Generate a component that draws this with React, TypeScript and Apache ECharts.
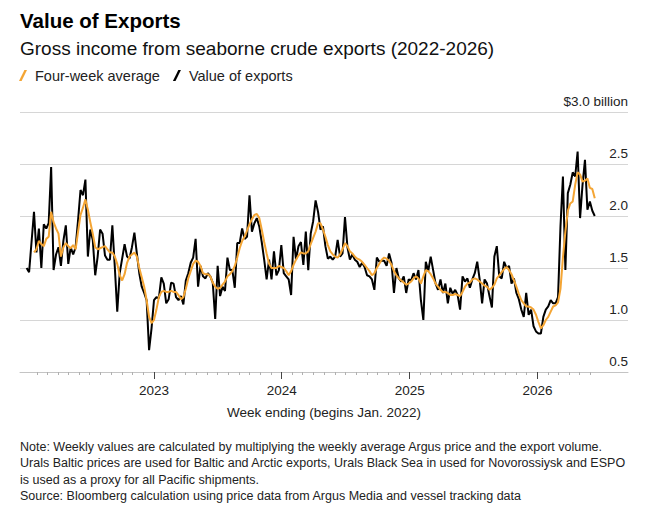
import React, { useEffect, useRef } from 'react';
import * as echarts from 'echarts';

const FONT = '"Liberation Sans", Arial, Helvetica, sans-serif';
const DAY = 86400000;

const chartTitle = 'Value of Exports';
const chartSubtitle = 'Gross income from seaborne crude exports (2022-2026)';
const seriesNames = ['Four-week average', 'Value of exports'];
const xAxisName = 'Week ending (begins Jan. 2022)';
const yearLabels = ['2023', '2024', '2025', '2026'];
const yTickLabels = ['0.5', '1.0', '1.5', '2.0', '2.5', '$3.0 billion'];
const noteLines = [
  'Note: Weekly values are calculated by multiplying the weekly average Argus price and the export volume.',
  'Urals Baltic prices are used for Baltic and Arctic exports, Urals Black Sea in used for Novorossiysk and ESPO',
  'is used as a proxy for all Pacific shipments.',
  'Source: Bloomberg calculation using price data from Argus Media and vessel tracking data',
];

// first week ending in the series (weekly steps afterwards)
const firstWeekEnding = [2022, 0, 2];

// Weekly value of exports, $ billion
const exportValues = [
  1.50, 1.46, 1.75, 2.04, 1.65, 1.88, 1.50, 1.92, 1.88, 1.93,
  2.47, 1.48, 1.63, 1.70, 1.52, 1.76, 1.91, 1.54, 1.70, 1.63,
  1.70, 1.96, 2.25, 2.20, 2.35, 1.61, 1.87, 1.77, 1.43, 1.61,
  1.87, 1.83, 1.62, 1.58, 1.58, 1.91, 1.51, 1.08, 1.45, 1.59,
  1.73, 1.61, 1.59, 1.70, 1.84, 1.64, 1.45, 1.32, 1.26, 1.19,
  0.71, 0.92, 1.19, 1.22, 1.21, 1.41, 1.35, 1.16, 1.20, 1.36,
  1.35, 1.22, 1.19, 1.23, 1.15, 1.38, 1.45, 1.55, 1.60, 1.78,
  1.32, 1.52, 1.42, 1.40, 1.45, 1.42, 1.36, 1.01, 1.52, 1.23,
  1.32, 1.28, 1.60, 1.48, 1.48, 1.31, 1.74, 1.74, 1.88, 1.78,
  1.80, 2.20, 1.85, 1.93, 1.98, 1.90, 1.75, 1.58, 1.39, 1.58,
  1.39, 1.66, 1.43, 1.48, 1.72, 1.45, 1.42, 1.39, 1.24, 1.80,
  1.58, 1.71, 1.75, 1.53, 1.85, 1.48, 1.83, 1.95, 2.15, 2.04,
  1.87, 1.90, 1.71, 1.59, 1.61, 1.58, 1.61, 1.77, 1.61, 1.64,
  1.99, 1.70, 1.58, 1.63, 1.58, 1.56, 1.51, 1.55, 1.51, 1.43,
  1.42, 1.39, 1.29, 1.60, 1.56, 1.57, 1.57, 1.52, 1.64, 1.55,
  1.26, 1.50, 1.40, 1.37, 1.42, 1.26, 1.39, 1.38, 1.45, 1.39,
  1.48, 1.19, 1.00, 1.56, 1.47, 1.61, 1.48, 1.35, 1.29, 1.39,
  1.26, 1.35, 1.16, 1.31, 1.25, 1.29, 1.24, 1.10, 1.42, 1.37,
  1.40, 1.31, 1.39, 1.45, 1.56, 1.39, 1.16, 1.39, 1.35, 1.23,
  1.12, 1.61, 1.71, 1.42, 1.40, 1.56, 1.50, 1.52, 1.35, 1.40,
  1.26, 1.20, 1.10, 1.03, 1.26, 1.05, 1.10, 0.94, 0.89, 0.87,
  0.87, 1.03, 1.10, 1.13, 1.19, 1.16, 1.16, 1.22, 1.90, 2.38,
  1.48, 2.22, 2.30, 2.42, 2.38, 2.62, 1.98, 2.30, 2.54, 2.06,
  2.14, 2.05, 2.00,
];

// Four-week average, $ billion
const fourWeekAverage = [
  null, null, null, 1.65, 1.68, 1.76, 1.73, 1.71, 1.78, 1.80,
  2.04, 1.94, 1.88, 1.83, 1.61, 1.70, 1.74, 1.71, 1.69, 1.72,
  1.68, 1.85, 2.01, 2.08, 2.16, 2.06, 1.94, 1.83, 1.70, 1.68,
  1.69, 1.70, 1.71, 1.68, 1.65, 1.65, 1.61, 1.54, 1.43, 1.38,
  1.44, 1.55, 1.61, 1.63, 1.65, 1.61, 1.50, 1.41, 1.32, 1.19,
  1.03, 0.97, 1.00, 1.10, 1.22, 1.27, 1.28, 1.27, 1.27, 1.28,
  1.27, 1.27, 1.24, 1.20, 1.22, 1.30, 1.40, 1.47, 1.54, 1.57,
  1.56, 1.52, 1.45, 1.44, 1.44, 1.42, 1.36, 1.32, 1.30, 1.31,
  1.34, 1.37, 1.42, 1.44, 1.47, 1.52, 1.60, 1.69, 1.76, 1.80,
  1.86, 1.92, 1.97, 2.01, 2.02, 1.98, 1.87, 1.75, 1.64, 1.54,
  1.50, 1.50, 1.50, 1.52, 1.51, 1.50, 1.47, 1.43, 1.47, 1.53,
  1.58, 1.62, 1.65, 1.64, 1.64, 1.66, 1.73, 1.79, 1.85, 1.93,
  1.93, 1.87, 1.80, 1.72, 1.66, 1.63, 1.61, 1.60, 1.63, 1.68,
  1.74, 1.71, 1.66, 1.64, 1.61, 1.59, 1.58, 1.56, 1.53, 1.50,
  1.47, 1.43, 1.45, 1.50, 1.54, 1.58, 1.60, 1.59, 1.57, 1.53,
  1.47, 1.43, 1.40, 1.38, 1.36, 1.34, 1.35, 1.37, 1.40, 1.42,
  1.40, 1.35, 1.42, 1.48, 1.47, 1.44, 1.40, 1.35, 1.32, 1.29,
  1.27, 1.27, 1.26, 1.24, 1.24, 1.25, 1.24, 1.23, 1.27, 1.32,
  1.35, 1.36, 1.39, 1.40, 1.39, 1.37, 1.35, 1.33, 1.32, 1.29,
  1.31, 1.34, 1.40, 1.43, 1.46, 1.49, 1.51, 1.48, 1.44, 1.38,
  1.32, 1.25, 1.19, 1.16, 1.13, 1.13, 1.12, 1.10, 1.05, 0.98,
  0.92, 0.95, 1.00, 1.03, 1.08, 1.13, 1.14, 1.17, 1.30, 1.60,
  1.85, 2.05, 2.12, 2.14, 2.30, 2.42, 2.40, 2.33, 2.34, 2.36,
  2.27, 2.26, 2.17,
];

const ORANGE = '#f4a534';
const BLACK = '#000000';
const SLASH = 'path://M0,11 L2.6,11 L8,0 L5.4,0 Z';

export default function App() {
  const ref = useRef<HTMLDivElement>(null);

  useEffect(() => {
    if (!ref.current) return;
    const chart = echarts.init(ref.current, null, { renderer: 'svg' });

    const start = Date.UTC(firstWeekEnding[0], firstWeekEnding[1], firstWeekEnding[2]);
    const weekDates = exportValues.map((_, i) => start + i * 7 * DAY);
    const jan2022 = Date.UTC(2022, 0, 1);
    const xMin = jan2022 - 18 * DAY;
    const xMax = jan2022 + 1720 * DAY;

    const yearTicks = yearLabels.map((y) => Date.UTC(Number(y), 0, 1));
    const monthTicks: number[] = [];
    for (let y = 2022; y <= 2026; y++) {
      for (let m = 0; m < 12; m++) {
        const t = Date.UTC(y, m, 1);
        if (t >= Date.UTC(2022, 1, 1) && t <= Date.UTC(2026, 5, 1)) monthTicks.push(t);
      }
    }

    const gridBox = { left: 20, right: 28, top: 112, bottom: 140, containLabel: false, outerBoundsMode: 'none' } as any;

    const option: any = {
      animation: false,
      backgroundColor: '#ffffff',
      textStyle: { fontFamily: FONT },
      title: [
        {
          text: chartTitle,
          left: 20,
          top: 10,
          padding: 0,
          textStyle: { fontFamily: FONT, fontSize: 20.5, fontWeight: 'bold', color: '#000' },
        },
        {
          text: chartSubtitle,
          left: 20,
          top: 38.5,
          padding: 0,
          textStyle: { fontFamily: FONT, fontSize: 19, fontWeight: 'normal', color: '#111' },
        },
      ],
      legend: {
        left: 19,
        top: 68,
        padding: 0,
        itemGap: 13,
        itemWidth: 8,
        itemHeight: 11,
        selectedMode: false,
        data: seriesNames.map((n) => ({ name: n, icon: SLASH })),
        textStyle: { fontFamily: FONT, fontSize: 14.5, color: '#222', padding: [0, 0, 0, 3] },
      },
      grid: [gridBox, { ...gridBox, show: false }],
      xAxis: [
        {
          type: 'value',
          gridIndex: 0,
          min: xMin,
          max: xMax,
          position: 'bottom',
          axisLine: { show: true, onZero: false, lineStyle: { color: '#c4c4c4', width: 1 } },
          axisTick: { show: true, length: 3, customValues: monthTicks, lineStyle: { color: '#b0b0b0', width: 1 } },
          axisLabel: { show: false },
          splitLine: { show: false },
        },
        {
          type: 'value',
          gridIndex: 1,
          min: xMin,
          max: xMax,
          position: 'bottom',
          axisLine: { show: false, onZero: false },
          axisTick: { show: true, length: 7, customValues: yearTicks, lineStyle: { color: '#444', width: 1 } },
          axisLabel: {
            show: true,
            customValues: yearTicks,
            formatter: (v: number) => {
              const idx = yearTicks.indexOf(v);
              return idx >= 0 ? yearLabels[idx] : '';
            },
            margin: 11,
            fontFamily: FONT,
            fontSize: 13.5,
            color: '#222',
          },
          splitLine: { show: false },
          name: xAxisName,
          nameLocation: 'middle',
          nameGap: 33,
          nameTextStyle: { fontFamily: FONT, fontSize: 13.5, color: '#222' },
        },
      ],
      yAxis: [
        {
          type: 'value',
          gridIndex: 0,
          min: 0.5,
          max: 3,
          interval: 0.5,
          position: 'right',
          axisLine: { show: false },
          axisTick: { show: false },
          splitLine: { show: true, lineStyle: { color: '#d6d6d6', width: 1 } },
          axisLabel: {
            inside: true,
            margin: 0,
            verticalAlign: 'bottom',
            align: 'right',
            padding: [0, 0, 4, 0],
            fontFamily: FONT,
            fontSize: 13.5,
            color: '#222',
            formatter: (v: number) => yTickLabels[Math.round((v - 0.5) / 0.5)] ?? '',
          },
        },
        {
          type: 'value',
          gridIndex: 1,
          min: 0.5,
          max: 3,
          show: false,
        },
      ],
      graphic: noteLines.map((line, i) => ({
        type: 'text',
        left: 20,
        top: 440 + i * 16.5,
        silent: true,
        style: {
          text: line,
          fill: '#222',
          fontFamily: FONT,
          fontSize: 12.5,
        },
      })),
      series: [
        {
          name: seriesNames[1],
          type: 'line',
          xAxisIndex: 0,
          yAxisIndex: 0,
          data: exportValues.map((v, i) => [weekDates[i], v]),
          showSymbol: false,
          symbol: 'none',
          lineStyle: { color: BLACK, width: 2 },
          itemStyle: { color: BLACK },
          emphasis: { disabled: true },
          z: 2,
        },
        {
          name: seriesNames[0],
          type: 'line',
          xAxisIndex: 0,
          yAxisIndex: 0,
          data: fourWeekAverage.map((v, i) => [weekDates[i], v]),
          showSymbol: false,
          symbol: 'none',
          connectNulls: false,
          lineStyle: { color: ORANGE, width: 2 },
          itemStyle: { color: ORANGE },
          emphasis: { disabled: true },
          z: 3,
        },
      ],
    };

    chart.setOption(option);
    return () => chart.dispose();
  }, []);

  return (
    <div
      ref={ref}
      style={{ position: 'absolute', left: 0, top: 0, width: 656, height: 512, background: '#fff' }}
    />
  );
}
